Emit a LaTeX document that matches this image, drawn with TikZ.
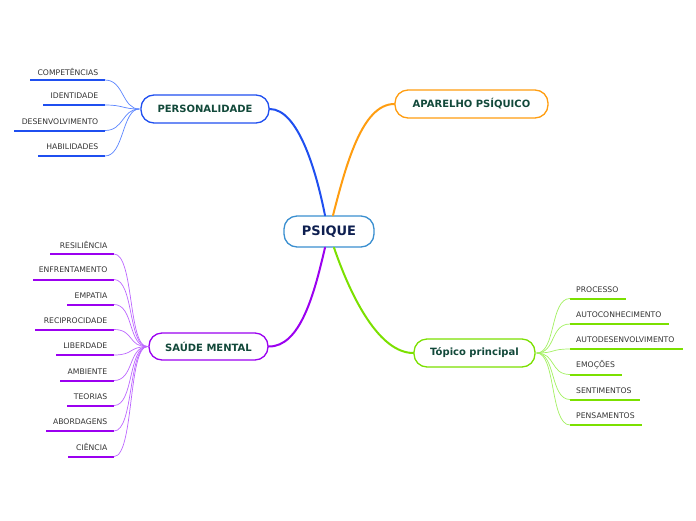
\documentclass[tikz,border=0pt]{standalone}
\usepackage{fontspec}
\setmainfont{DejaVu Sans}
\definecolor{titlegreen}{HTML}{12493A}
\definecolor{navy}{HTML}{0E1F50}
\definecolor{subgray}{HTML}{333333}
\definecolor{cblue}{HTML}{1F4FF0}
\definecolor{cbluel}{HTML}{5A84FF}
\definecolor{cpsique}{HTML}{3A8FD0}
\definecolor{corange}{HTML}{FF9D10}
\definecolor{cpurple}{HTML}{9B00F0}
\definecolor{cpurplel}{HTML}{BC66FF}
\definecolor{cgreen}{HTML}{7BE000}
\definecolor{cgreenl}{HTML}{A2F060}
\tikzset{
  mainbox/.style={draw, line width=1.3pt, rounded corners=13pt, fill=white,
    inner sep=0pt, font=\bfseries\fontsize{10}{12}\selectfont, text=titlegreen},
  sublabel/.style={inner sep=0pt, font=\fontsize{7.7}{9}\selectfont, text=subgray},
  mainlink/.style={line width=2pt, line cap=round},
  sublink/.style={line width=0.7pt},
  uline/.style={line width=2pt}
}
\begin{document}
\begin{tikzpicture}[x=1pt,y=-1pt]
\useasboundingbox (0,0) rectangle (696,520);
% main nodes
\node[mainbox, draw=cpsique, text=navy, font=\bfseries\fontsize{13}{15}\selectfont,
  minimum width=90pt, minimum height=31pt] (psique) at (329,231.5) {PSIQUE};
\node[mainbox, draw=cblue, minimum width=128pt, minimum height=28pt] (pers) at (205,109) {PERSONALIDADE};
\node[mainbox, draw=corange, minimum width=153pt, minimum height=28pt] (apar) at (471.5,104) {APARELHO PSÍQUICO};
\node[mainbox, draw=cpurple, minimum width=119pt, minimum height=27pt] (saude) at (208.5,346.5) {SAÚDE MENTAL};
\node[mainbox, draw=cgreen, minimum width=121pt, minimum height=28pt] (topico) at (474.5,353) {Tópico principal};
% main links
\draw[mainlink, cblue] ([xshift=-4pt]psique.north) .. controls (316,170) and (298,109) .. (pers.east);
\draw[mainlink, corange] ([xshift=4pt]psique.north) .. controls (346,165) and (362,104) .. (apar.west);
\draw[mainlink, cpurple] ([xshift=-4pt]psique.south) .. controls (314,295) and (300,347) .. (saude.east);
\draw[mainlink, cgreen] ([xshift=5pt]psique.south) .. controls (352,300) and (380,353) .. (topico.west);
% Personalidade children
\coordinate (ph) at ([xshift=-1pt]pers.west);
\foreach \ty/\ly/\lx/\txt/\i in {72/80/30/COMPETÊNCIAS/1, 96/105/43/IDENTIDADE/2, 122/130.5/14/DESENVOLVIMENTO/3, 147/156/38/HABILIDADES/4}{
  \node[sublabel, anchor=east] (p\i) at (98.5,\ty) {\txt};
  \coordinate (pl\i) at (\lx,\ly);
  \coordinate (pr\i) at (105,\ly);
  \draw[uline, cblue] (pl\i) -- (pr\i);
  \draw[sublink, cbluel] (pr\i) .. controls (124,\ly) and (122,109) .. (ph);
}
% Saude children
\coordinate (sh) at ([xshift=-1pt]saude.west);
\foreach \ty/\ly/\lx/\txt/\i in {245/254/50/RESILIÊNCIA/1, 270/279.5/33/ENFRENTAMENTO/2, 296/304.5/67/EMPATIA/3, 321/329.5/35/RECIPROCIDADE/4, 346/355/56/LIBERDADE/5, 372/380.5/60/AMBIENTE/6, 397/405.5/67/TEORIAS/7, 422/431/46/ABORDAGENS/8, 447/456.5/68/CIÊNCIA/9}{
  \node[sublabel, anchor=east] (s\i) at (107.5,\ty) {\txt};
  \coordinate (sl\i) at (\lx,\ly);
  \coordinate (sr\i) at (114,\ly);
  \draw[uline, cpurple] (sl\i) -- (sr\i);
  \draw[sublink, cpurplel] (sr\i) .. controls (134,\ly) and (128,347) .. (sh);
}
% Topico children
\coordinate (th) at ([xshift=1pt]topico.east);
\foreach \ty/\ly/\rx/\txt/\i in {289.5/298.5/625.5/PROCESSO/1, 315/324/668.5/AUTOCONHECIMENTO/2, 340/349/682.5/AUTODESENVOLVIMENTO/3, 365/374.5/621.5/EMOÇÕES/4, 390.5/399.5/640/SENTIMENTOS/5, 415.5/425/641.5/PENSAMENTOS/6}{
  \node[sublabel, anchor=west] (t\i) at (576,\ty) {\txt};
  \coordinate (tl\i) at (570,\ly);
  \coordinate (tr\i) at (\rx,\ly);
  \draw[uline, cgreen] (tl\i) -- (tr\i);
  \draw[sublink, cgreenl] (tl\i) .. controls (550,\ly) and (556,353) .. (th);
}
\end{tikzpicture}
\end{document}
